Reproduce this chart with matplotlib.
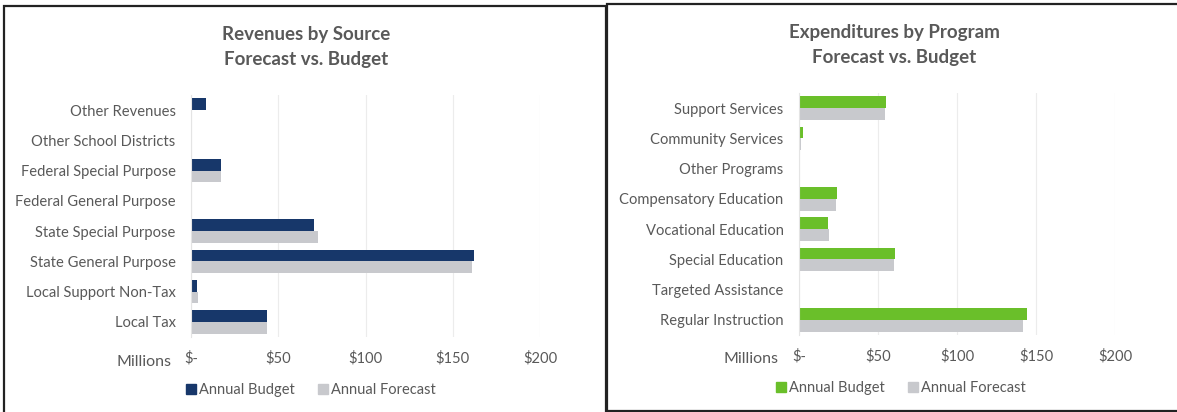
import numpy as np
import matplotlib
matplotlib.use('Agg')
import matplotlib.pyplot as plt
from matplotlib.lines import Line2D

plt.rcParams['font.family'] = ['Lato', 'DejaVu Sans']

# revenues (millions)
rev_cats = ['Other Revenues', 'Other School Districts', 'Federal Special Purpose',
            'Federal General Purpose', 'State Special Purpose', 'State General Purpose',
            'Local Support Non-Tax', 'Local Tax']
rev_budget = [8.6, 0, 17.2, 0, 70.6, 161.9, 3.2, 43.7]
rev_forecast = [0.3, 0, 17.2, 0, 72.5, 161.3, 4.2, 43.5]

# expenditures (millions)
exp_cats = ['Support Services', 'Community Services', 'Other Programs',
            'Compensatory Education', 'Vocational Education', 'Special Education',
            'Targeted Assistance', 'Regular Instruction']
exp_budget = [55.1, 2.3, 0.3, 24.3, 18.6, 61.0, 0, 144.5]
exp_forecast = [54.5, 1.5, 0.8, 23.2, 19.0, 60.2, 0, 141.8]

xticks = [0, 50, 100, 150, 200]
xlabels = ['$-', '$50', '$100', '$150', '$200']

txt = '#595959'
grey_bar = '#c8c9cd'

W, H = 1177, 412
fig = plt.figure(figsize=(W / 100, H / 100), dpi=100)


def panel(rect, cats, budget, forecast, color, title, tx, ty, mx, my, lx, ly):
    ax = fig.add_axes(rect)
    y = np.arange(len(cats))
    h = 0.385
    ax.barh(y - h / 2, budget, height=h, color=color)
    ax.barh(y + h / 2, forecast, height=h, color=grey_bar)
    ax.set_ylim(len(cats) - 0.5, -0.5)
    ax.set_xlim(0, 200)
    ax.set_yticks(y)
    ax.set_yticklabels(cats, fontsize=10.6, color=txt)
    ax.set_xticks(xticks)
    ax.set_xticklabels(xlabels, fontsize=10.6, color=txt)
    ax.tick_params(length=0)
    ax.tick_params(axis='y', pad=11)
    ax.tick_params(axis='x', pad=10)
    for s in ['top', 'right', 'bottom']:
        ax.spines[s].set_visible(False)
    ax.spines['left'].set_color('#e4e4e4')
    ax.grid(axis='x', color='#ececec', lw=0.8)
    ax.set_axisbelow(True)
    fig.text(tx / W, 1 - ty / H, title, ha='center', va='center', fontsize=13.5,
             fontweight='bold', color=txt, linespacing=1.6)
    fig.text(mx / W, 1 - my / H, 'Millions', ha='center', va='center',
             fontsize=11.5, color=txt)
    handles = [Line2D([], [], marker='s', ls='', color=color, markersize=7),
               Line2D([], [], marker='s', ls='', color=grey_bar, markersize=7)]
    fig.legend(handles, ['Annual Budget', 'Annual Forecast'], loc='center',
               bbox_to_anchor=(lx / W, 1 - ly / H), ncol=2, frameon=False,
               fontsize=10.5, handlelength=0.6, handletextpad=0.25,
               columnspacing=1.6, labelcolor=txt)
    return ax


panel([191 / W, 1 - 337 / H, 349 / W, 242 / H], rev_cats, rev_budget, rev_forecast,
      '#17376a', 'Revenues by Source\nForecast vs. Budget', 306, 47, 144, 362, 311, 390)
panel([799 / W, 1 - 335 / H, 316 / W, 242 / H], exp_cats, exp_budget, exp_forecast,
      '#6abf2a', 'Expenditures by Program\nForecast vs. Budget', 894, 45, 751, 359, 901, 388)

# panel borders
fig.add_artist(plt.Rectangle((4 / W, -0.05), 602 / W, 1.05 - 6 / H, transform=fig.transFigure,
                             fill=False, ec='#222222', lw=1.6))
fig.add_artist(plt.Rectangle((607 / W, 1 - 411 / H), 0.6, 407 / H, transform=fig.transFigure,
                             fill=False, ec='#222222', lw=1.6))

fig.savefig('out.png', dpi=100)
